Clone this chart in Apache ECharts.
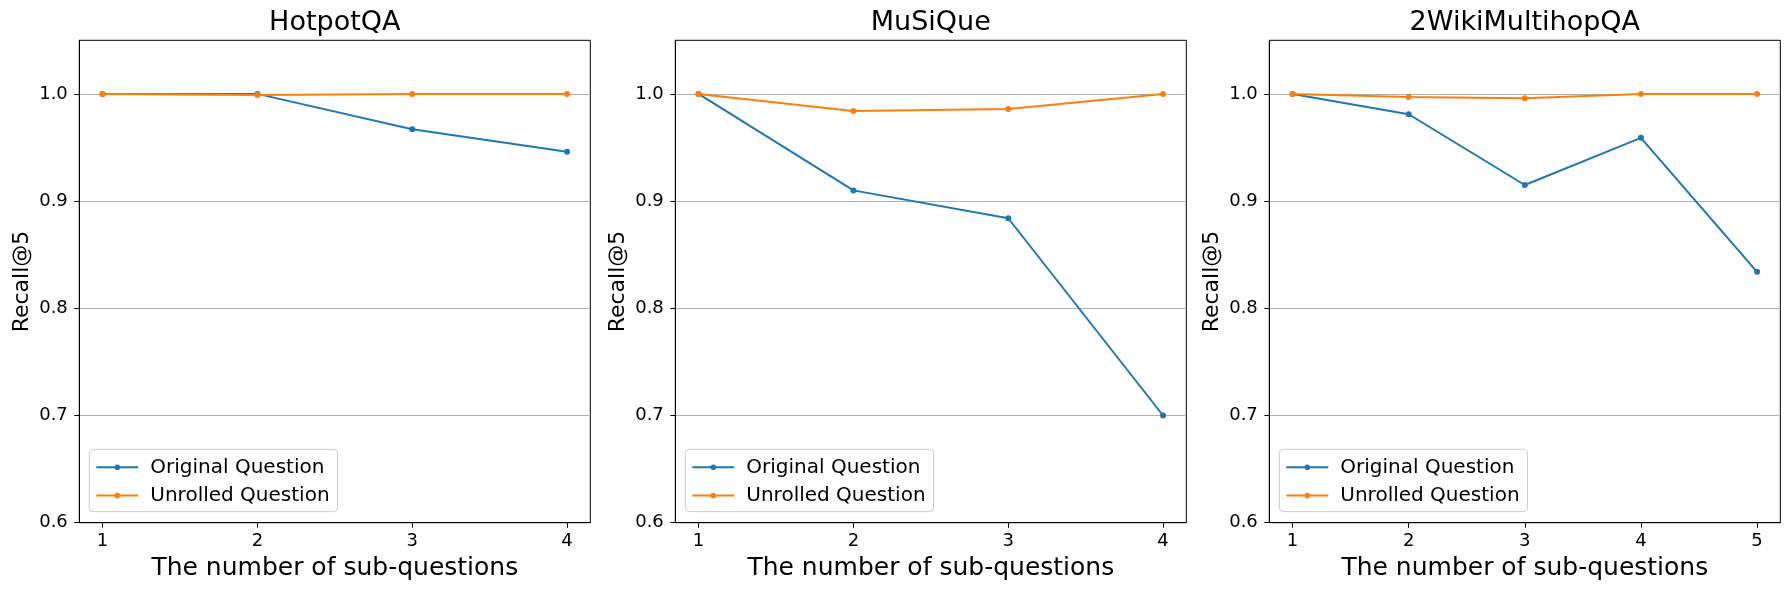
<!DOCTYPE html>
<html>
<head>
<meta charset="utf-8">
<script src="https://cdn.jsdelivr.net/npm/echarts@6/dist/echarts.min.js"></script>
<style>
  html, body { margin: 0; padding: 0; background: #fff; }
  #main { width: 1790px; height: 590px; }
</style>
</head>
<body>
<div id="main"></div>
<script>
// data
var titles = ['HotpotQA', 'MuSiQue', '2WikiMultihopQA'];
var seriesNames = ['Original Question', 'Unrolled Question'];
var subQ4 = [1, 2, 3, 4];
var subQ5 = [1, 2, 3, 4, 5];
var yTicks = [0.6, 0.7, 0.8, 0.9, 1.0];

var hotpotOriginal = [1.0, 1.0, 0.967, 0.946];
var hotpotUnrolled = [1.0, 0.999, 1.0, 1.0];
var musiqueOriginal = [1.0, 0.910, 0.884, 0.700];
var musiqueUnrolled = [1.0, 0.984, 0.986, 1.0];
var wikiOriginal = [1.0, 0.981, 0.915, 0.959, 0.834];
var wikiUnrolled = [1.0, 0.997, 0.996, 1.0, 1.0];

var panels = [
  { x: subQ4, orig: hotpotOriginal, unr: hotpotUnrolled },
  { x: subQ4, orig: musiqueOriginal, unr: musiqueUnrolled },
  { x: subQ5, orig: wikiOriginal, unr: wikiUnrolled }
];

var FONT = 'DejaVu Sans';
var colors = ['#1f77b4', '#ff7f0e'];
var gridLefts = [79.3, 675.3, 1269.3];
var gridTop = 40.3, gridW = 511, gridH = 482.4;

function pairs(xs, ys) {
  return xs.map(function (x, i) { return [x, ys[i]]; });
}

var option = {
  animation: false,
  backgroundColor: '#fff',
  title: [], grid: [], xAxis: [], yAxis: [], legend: [], series: []
};

panels.forEach(function (p, k) {
  var n = p.x.length;
  var pad = (p.x[n - 1] - p.x[0]) * 0.05;   // matplotlib-style 5% margin
  var cx = gridLefts[k] + gridW / 2;

  option.title.push({
    text: titles[k],
    left: cx, top: 9, padding: 0,
    textAlign: 'center',
    textStyle: { fontFamily: FONT, fontSize: 27, fontWeight: 'normal', color: '#000' }
  });

  option.grid.push({
    left: gridLefts[k], top: gridTop, width: gridW, height: gridH,
    show: true, borderColor: '#000', borderWidth: 1, backgroundColor: 'transparent'
  });

  option.xAxis.push({
    type: 'value', gridIndex: k,
    min: p.x[0] - pad, max: p.x[n - 1] + pad,
    name: 'The number of sub-questions',
    nameLocation: 'middle', nameGap: 31,
    nameTextStyle: { fontFamily: FONT, fontSize: 25, color: '#000' },
    axisLine: { show: true, onZero: false, lineStyle: { color: '#000', width: 1 } },
    axisTick: { show: true, inside: false, length: 5, customValues: p.x, lineStyle: { color: '#000', width: 1 } },
    axisLabel: { customValues: p.x, margin: 10, fontFamily: FONT, fontSize: 18, color: '#000' },
    splitLine: { show: false }
  });

  option.yAxis.push({
    type: 'value', gridIndex: k,
    min: 0.6, max: 1.05, interval: 0.1,
    name: 'Recall@5',
    nameLocation: 'middle', nameGap: 46, nameRotate: 90,
    nameTextStyle: { fontFamily: FONT, fontSize: 22, color: '#000' },
    axisLine: { show: true, onZero: false, lineStyle: { color: '#000', width: 1 } },
    axisTick: { show: true, inside: false, length: 5, customValues: yTicks, lineStyle: { color: '#000', width: 1 } },
    axisLabel: {
      customValues: yTicks, margin: 11.5,
      fontFamily: FONT, fontSize: 18, color: '#000',
      formatter: function (v) { return v.toFixed(1); }
    },
    splitLine: { show: true, lineStyle: { color: '#b0b0b0', width: 1 } }
  });

  option.legend.push({
    orient: 'vertical',
    left: gridLefts[k] + 10, top: 449.3,
    padding: [8, 8, 6, 6],
    itemWidth: 42, itemHeight: 7, itemGap: 8.3,
    backgroundColor: 'rgba(255,255,255,0.8)',
    borderColor: '#cccccc', borderWidth: 1, borderRadius: 4,
    data: seriesNames,
    textStyle: { fontFamily: FONT, fontSize: 20, color: '#000', lineHeight: 20, padding: [0, 0, 0, 7] }
  });

  [p.orig, p.unr].forEach(function (vals, s) {
    option.series.push({
      name: seriesNames[s],
      type: 'line',
      xAxisIndex: k, yAxisIndex: k,
      data: pairs(p.x, vals),
      symbol: 'circle', symbolSize: 6,
      showSymbol: true,
      color: colors[s],
      lineStyle: { width: 2, color: colors[s] },
      itemStyle: { color: colors[s] },
      emphasis: { disabled: true }
    });
  });
});

var chart = echarts.init(document.getElementById('main'), null, { renderer: 'canvas' });
chart.setOption(option);
</script>
</body>
</html>
